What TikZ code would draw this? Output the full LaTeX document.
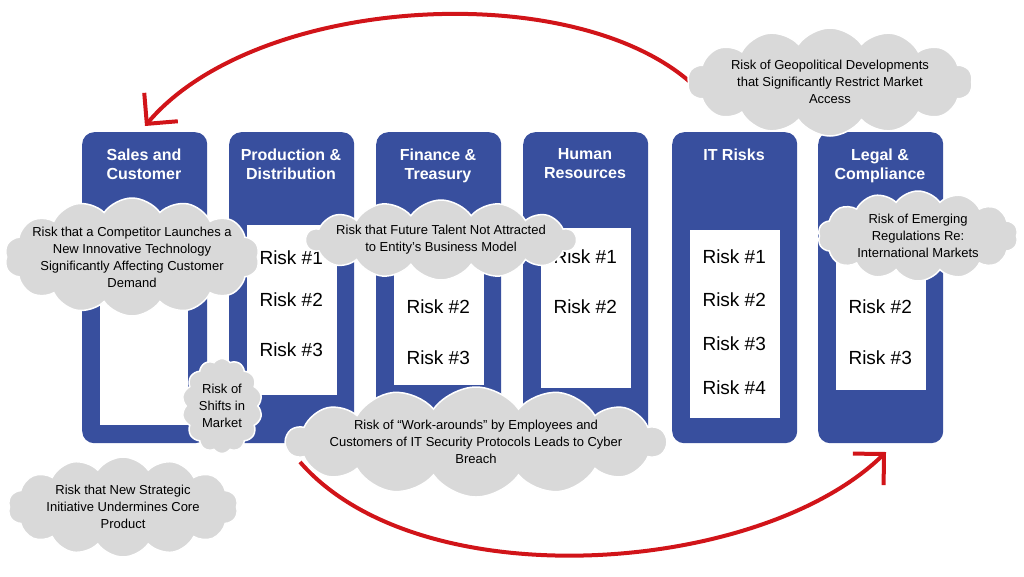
\documentclass[tikz,border=0pt]{standalone}
\usepackage{fontspec}
\setmainfont{Liberation Sans}
\usetikzlibrary{positioning}
\usetikzlibrary{arrows.meta}
\usetikzlibrary{shapes.symbols}
\definecolor{colblue}{rgb}{0.22,0.31,0.62}
\definecolor{riskred}{rgb}{0.82,0.08,0.10}
\definecolor{cloudgray}{rgb}{0.85,0.85,0.85}

\begin{document}
\begin{tikzpicture}[%
  x=1pt, y=-1pt,
  column/.style={fill=colblue, rounded corners=12pt, minimum width=125pt,
    minimum height=311pt, anchor=north west, inner sep=0pt},
  panel/.style={fill=white, anchor=north west, inner sep=0pt},
  title/.style={text=white, font=\fontsize{16}{19}\selectfont\bfseries,
    align=center, anchor=north},
  risk/.style={font=\fontsize{19}{22}\selectfont, anchor=west},
  bubble/.style={cloud, cloud puffs=14, cloud puff arc=110, cloud ignores aspect,
    fill=cloudgray, draw=white, line width=1.5pt, inner sep=0pt},
  words/.style={align=center, font=\fontsize{13}{17}\selectfont},
  swing/.style={draw=riskred, line width=4pt,
    -{Straight Barb[length=22pt,width=44pt,line width=4pt]}},
]
  \useasboundingbox (0,0) rectangle (1024,576);

  % columns
  \node[column] (c1) at (82,132) {};
  \node[column] (c2) at (229,132) {};
  \node[column] (c3) at (376,132) {};
  \node[column] (c4) at (523,132) {};
  \node[column] (c5) at (672,132) {};
  \node[column] (c6) at (818,132) {};

  \node[panel, minimum width=88pt, minimum height=210pt] (p1) at (100,215) {};
  \node[panel, minimum width=90pt, minimum height=170pt] (p2) at (247,225) {};
  \node[panel, minimum width=90pt, minimum height=160pt] (p3) at (394,225) {};
  \node[panel, minimum width=90pt, minimum height=160pt] (p4) at (541,228) {};
  \node[panel, minimum width=90pt, minimum height=188pt] (p5) at (690,230) {};
  \node[panel, minimum width=90pt, minimum height=165pt] (p6) at (836,225) {};

  \node[title] (t1) at (144,145) {Sales and\\Customer};
  \node[title] (t2) at (291,145) {Production \&\\Distribution};
  \node[title] (t3) at (438,145) {Finance \&\\Treasury};
  \node[title] (t4) at (585,145) {Human\\Resources};
  \node[title] (t5) at (734,145) {IT Risks};
  \node[title] (t6) at (880,145) {Legal \&\\Compliance};

  \node[risk] at (256,258) {Risk \#1};
  \node[risk] at (256,300) {Risk \#2};
  \node[risk] at (256,350) {Risk \#3};
  \node[risk] at (403,307) {Risk \#2};
  \node[risk] at (403,358) {Risk \#3};
  \node[risk] at (550,257) {Risk \#1};
  \node[risk] at (550,307) {Risk \#2};
  \node[risk] at (699,257) {Risk \#1};
  \node[risk] at (699,300) {Risk \#2};
  \node[risk] at (699,344) {Risk \#3};
  \node[risk] at (699,388) {Risk \#4};
  \node[risk] at (845,307) {Risk \#2};
  \node[risk] at (845,358) {Risk \#3};

  % arrows
  \coordinate (topfrom) at (706,98);
  \coordinate (topto) at (145,126);
  \coordinate (lowfrom) at (300,462);
  \coordinate (lowto) at (886,452);
  \draw[swing] (topfrom) .. controls (600,-25) and (260,-10) .. (topto);
  \draw[swing] (lowfrom) .. controls (420,600) and (760,575) .. (lowto);

  % clouds
  \node[bubble, minimum width=285pt, minimum height=108pt] (geo) at (830,82) {};
  \node[bubble, minimum width=255pt, minimum height=118pt] (tech) at (132,257) {};
  \node[bubble, minimum width=270pt, minimum height=80pt] (talent) at (441,240) {};
  \node[bubble, minimum width=200pt, minimum height=90pt] (regs) at (918,236) {};
  \node[bubble, minimum width=80pt, minimum height=95pt] (shift) at (222,406) {};
  \node[bubble, minimum width=380pt, minimum height=110pt] (cyber) at (476,442) {};
  \node[bubble, minimum width=230pt, minimum height=100pt] (core) at (123,507) {};

  \node[words] at (geo) {Risk of Geopolitical Developments\\that Significantly Restrict Market\\Access};
  \node[words] at (tech) {Risk that a Competitor Launches a\\New Innovative Technology\\Significantly Affecting Customer\\Demand};
  \node[words] at (talent) {Risk that Future Talent Not Attracted\\to Entity's Business Model};
  \node[words] at (regs) {Risk of Emerging\\Regulations Re:\\International Markets};
  \node[words] at (shift) {Risk of\\Shifts in\\Market};
  \node[words] at (cyber) {Risk of ``Work-arounds'' by Employees and\\Customers of IT Security Protocols Leads to Cyber\\Breach};
  \node[words] at (core) {Risk that New Strategic\\Initiative Undermines Core\\Product};
\end{tikzpicture}
\end{document}
